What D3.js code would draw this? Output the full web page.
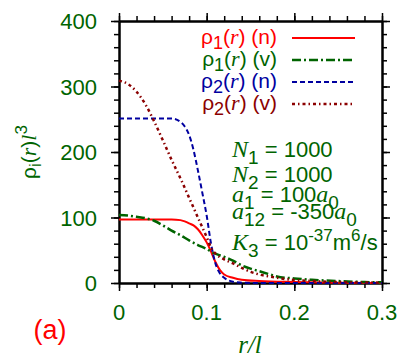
<!DOCTYPE html>
<html>
  <head>
    <script src="https://d3js.org/d3.v7.min.js"></script>
    <style>
      body { margin: 0; background: #fff; }
      text { font-family: "Liberation Sans", Arial, sans-serif; }
      .it { font-family: "Liberation Serif", "Times New Roman", serif; font-style: italic; }
    </style>
  </head>
  <body>
    <div id="chart"></div>
    <script>
      // radial positions r/l
      var rN1 = [0, 0.02, 0.04, 0.06, 0.07, 0.075, 0.08, 0.085, 0.09, 0.095, 0.1, 0.105, 0.11, 0.115, 0.12, 0.13, 0.14, 0.16, 0.2, 0.25, 0.3];
      var rho1n = [97, 97, 97, 97, 96, 94, 91, 88, 82, 73, 62, 48, 32, 20, 13, 8, 5, 3, 1.5, 0.5, 0];

      var rV1 = [0, 0.01, 0.02, 0.03, 0.04, 0.05, 0.06, 0.07, 0.08, 0.09, 0.1, 0.106, 0.12, 0.13, 0.14, 0.15, 0.16, 0.17, 0.18, 0.2, 0.22, 0.25, 0.28, 0.3];
      var rho1v = [104, 103, 101, 99, 95, 88, 80, 73, 65, 58, 52, 47, 40, 34, 27, 22, 18, 14, 10, 7, 5, 3, 1.5, 1];

      var rN2 = [0, 0.03, 0.06, 0.07, 0.075, 0.08, 0.085, 0.09, 0.095, 0.1, 0.105, 0.11, 0.115, 0.12, 0.13, 0.14, 0.15, 0.3];
      var rho2n = [251, 251, 251, 246, 239, 226, 203, 172, 138, 103, 60, 30, 15, 8, 2, 0.5, 0, 0];

      var rV2 = [0, 0.01, 0.02, 0.03, 0.04, 0.05, 0.06, 0.07, 0.08, 0.09, 0.1, 0.105, 0.11, 0.12, 0.13, 0.14, 0.15, 0.16, 0.18, 0.2, 0.22, 0.25, 0.3];
      var rho2v = [309, 304, 292, 273, 247, 218, 188, 160, 130, 100, 70, 54, 45, 36, 30, 23, 17, 13, 8, 4.5, 3, 1.5, 0.5];

      var yTicks = [0, 100, 200, 300, 400];
      var xTicks = [0, 0.1, 0.2, 0.3];
      var xTickLabels = ["0", "0.1", "0.2", "0.3"];

      var series = [
        { r: rN1, v: rho1n, color: "#ff0000", dash: null, w: 2, sub: "1", tag: "n" },
        { r: rV1, v: rho1v, color: "#006400", dash: "9,3,2,3", w: 2.5, sub: "1", tag: "v" },
        { r: rN2, v: rho2n, color: "#0000a0", dash: "5,3", w: 2, sub: "2", tag: "n" },
        { r: rV2, v: rho2v, color: "#8b0000", dash: "3,3,1.5,3", w: 2.5, sub: "2", tag: "v" }
      ];

      var width = 399, height = 364;
      var margin = { left: 119, top: 21, right: 17, bottom: 81 };
      var green = "#006400";

      var svg = d3.select("#chart").append("svg")
        .attr("width", width)
        .attr("height", height);

      var x = d3.scaleLinear().domain([0, 0.3]).range([margin.left, width - margin.right]);
      var y = d3.scaleLinear().domain([0, 400]).range([height - margin.bottom, margin.top]);

      var minorX = d3.range(0, 0.3001, 0.02);
      var minorY = d3.range(0, 400.1, 20);

      function drawAxis(axisFn, scale, pos, vals, size) {
        var g = svg.append("g")
          .attr("transform", pos)
          .call(axisFn(scale).tickValues(vals).tickSize(size).tickSizeOuter(0).tickFormat(""));
        g.select(".domain").attr("stroke", "#000").attr("stroke-width", 2);
        g.selectAll(".tick line").attr("stroke", "#000").attr("stroke-width", 1.5);
        return g;
      }

      var b = "translate(0," + y(0) + ")", t = "translate(0," + y(400) + ")";
      var l = "translate(" + x(0) + ",0)", rr = "translate(" + x(0.3) + ",0)";
      drawAxis(d3.axisBottom, x, b, minorX, 5);
      drawAxis(d3.axisBottom, x, b, xTicks, 8);
      drawAxis(d3.axisTop, x, t, minorX, 5);
      drawAxis(d3.axisTop, x, t, xTicks, 8);
      drawAxis(d3.axisLeft, y, l, minorY, 5);
      drawAxis(d3.axisLeft, y, l, yTicks, 8);
      drawAxis(d3.axisRight, y, rr, minorY, 5);
      drawAxis(d3.axisRight, y, rr, yTicks, 8);

      // tick labels
      svg.append("g").selectAll("text").data(yTicks).enter().append("text")
        .attr("x", 97).attr("y", function (d) { return y(d) + 8; })
        .attr("text-anchor", "end").attr("font-size", 22).attr("fill", green)
        .text(function (d) { return d; });
      svg.append("g").selectAll("text").data(xTicks).enter().append("text")
        .attr("x", function (d) { return x(d); }).attr("y", 320)
        .attr("text-anchor", "middle").attr("font-size", 22).attr("fill", green)
        .text(function (d, i) { return xTickLabels[i]; });

      // curves
      var line = d3.line().curve(d3.curveMonotoneX)
        .x(function (d) { return x(d[0]); })
        .y(function (d) { return y(d[1]); });

      series.forEach(function (s) {
        svg.append("path")
          .datum(d3.zip(s.r, s.v))
          .attr("d", line)
          .attr("fill", "none")
          .attr("stroke", s.color)
          .attr("stroke-width", s.w)
          .attr("stroke-dasharray", s.dash);
      });

      // legend
      var legY = [44, 66, 88, 110];
      series.forEach(function (s, i) {
        var tx = svg.append("text").attr("x", 277).attr("y", legY[i])
          .attr("text-anchor", "end").attr("font-size", 21).attr("fill", s.color);
        tx.append("tspan").text("\u03c1");
        tx.append("tspan").attr("dy", 5).attr("font-size", 18).text(s.sub);
        tx.append("tspan").attr("dy", -5).text("(");
        tx.append("tspan").attr("class", "it").attr("font-size", 22).text("r");
        tx.append("tspan").text(") (" + s.tag + ")");
        svg.append("line")
          .attr("x1", 292).attr("x2", 355)
          .attr("y1", legY[i] - 6).attr("y2", legY[i] - 6)
          .attr("stroke", s.color).attr("stroke-width", s.w)
          .attr("stroke-dasharray", s.dash);
      });

      // parameter annotations
      function ann(yy, parts) {
        var tx = svg.append("text").attr("x", 232).attr("y", yy)
          .attr("font-size", 22).attr("fill", green);
        parts.forEach(function (p) {
          var ts = tx.append("tspan").text(p.t);
          if (p.it) ts.attr("class", "it").attr("font-size", 24);
          if (p.dy) ts.attr("dy", p.dy);
          if (p.fs) ts.attr("font-size", p.fs);
        });
      }
      ann(157, [{ t: "N", it: 1 }, { t: "1", dy: 7, fs: 19 }, { t: " = 1000", dy: -7 }]);
      ann(182, [{ t: "N", it: 1 }, { t: "2", dy: 7, fs: 19 }, { t: " = 1000", dy: -7 }]);
      ann(202, [{ t: "a", it: 1 }, { t: "1", dy: 7, fs: 19 }, { t: " = 100", dy: -7 }, { t: "a", it: 1 }, { t: "0", dy: 7, fs: 19 }]);
      ann(219, [{ t: "a", it: 1 }, { t: "12", dy: 7, fs: 19 }, { t: " = -350", dy: -7 }, { t: "a", it: 1 }, { t: "0", dy: 7, fs: 19 }]);
      ann(250, [{ t: "K", it: 1 }, { t: "3", dy: 7, fs: 19 }, { t: " = 10", dy: -7 }, { t: "-37", dy: -9, fs: 17 },
        { t: "m", dy: 9 }, { t: "6", dy: -9, fs: 17 }, { t: "/s", dy: 9 }]);

      // y axis title
      var yl = svg.append("text")
        .attr("transform", "translate(36,152) rotate(-90)")
        .attr("text-anchor", "middle").attr("font-size", 21).attr("fill", green);
      yl.append("tspan").text("\u03c1");
      yl.append("tspan").attr("dy", 5).attr("font-size", 17).text("i");
      yl.append("tspan").attr("dy", -5).text("(");
      yl.append("tspan").attr("class", "it").attr("font-size", 22).text("r");
      yl.append("tspan").text(")");
      yl.append("tspan").attr("class", "it").attr("font-size", 22).text("l");
      yl.append("tspan").attr("dy", -9).attr("font-size", 17).text("3");

      // x axis title
      svg.append("text").attr("x", 250).attr("y", 353)
        .attr("class", "it").attr("text-anchor", "middle")
        .attr("font-size", 25).attr("fill", green).text("r/l");

      svg.append("text").attr("x", 50).attr("y", 339)
        .attr("text-anchor", "middle").attr("font-size", 27).attr("fill", "#ff0000")
        .text("(a)");
    </script>
  </body>
</html>
